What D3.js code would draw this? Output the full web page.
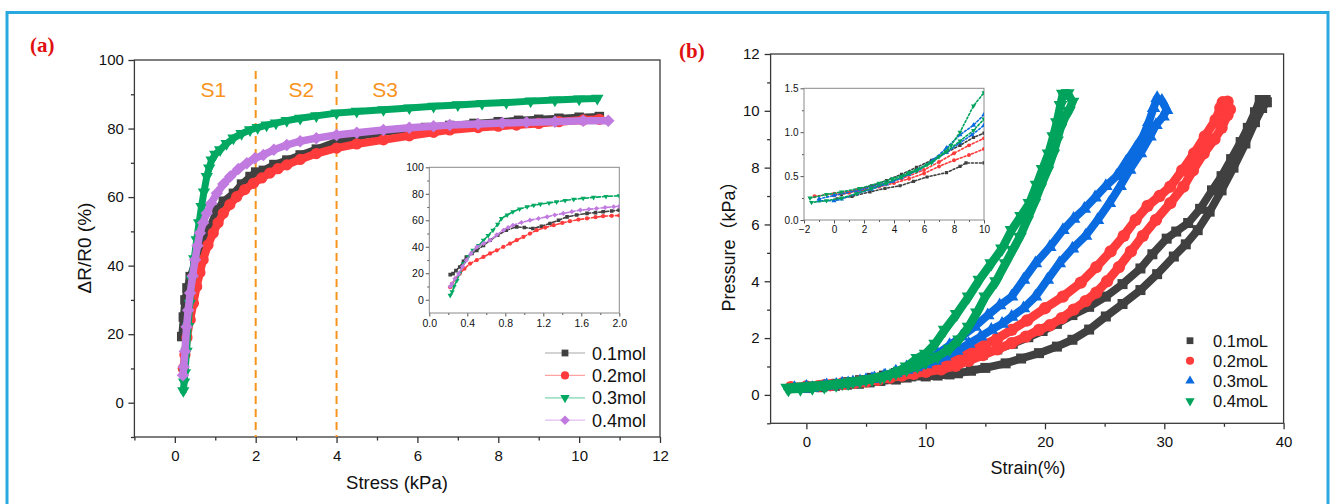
<!DOCTYPE html>
<html>
<head>
<meta charset="utf-8">
<script src="https://cdn.jsdelivr.net/npm/d3@7"></script>
<style>
  body { margin: 0; background: #fff; }
  svg { display: block; }
</style>
</head>
<body>
<svg id="fig" width="1332" height="504"></svg>
<script>
// ---------- Panel (a): resistance response vs. stress ----------
const namesA = ["0.1mol", "0.2mol", "0.3mol", "0.4mol"];

// [stress kPa, ΔR/R0 %]
const stressResp01 = [[0.17,19.3],[0.21,25],[0.25,30],[0.3,33.5],[0.38,36.8],[0.5,41],[0.62,45],[0.75,48.5],[0.87,51.4],[1.04,56.3],[1.2,58.8],[1.45,61.1],[1.65,63.8],[1.86,66],[2.0,67.3],[2.19,67.8],[2.45,69.5],[2.77,70.8],[3.1,72.3],[3.5,74],[4.0,76.2],[4.5,77.5],[5.0,78.6],[5.6,79.6],[6.2,80.3],[6.8,80.9],[7.4,81.5],[8.0,82],[8.5,82.4],[9.0,82.7],[9.5,83],[10.0,83.3],[10.5,83.5]];
const stressResp02 = [[0.21,10],[0.25,14],[0.3,19],[0.38,24.2],[0.46,29],[0.54,33.9],[0.62,38],[0.7,41.7],[0.82,46],[0.95,49.5],[1.07,52.5],[1.2,55.3],[1.36,57.8],[1.53,60.1],[1.73,62.2],[1.94,64],[2.15,65.6],[2.35,67],[2.55,68.3],[2.77,69.4],[3.1,71],[3.5,72.7],[4.0,74.3],[4.5,75.5],[5.16,76.7],[5.8,77.9],[6.4,78.9],[6.8,79.6],[7.5,80.3],[8.0,80.7],[8.45,81],[9.0,81.5],[9.5,82],[10.1,82.5],[10.5,82.7]];
const stressResp03 = [[0.21,3.5],[0.23,6],[0.25,8.7],[0.29,15],[0.33,22.2],[0.37,29],[0.42,35.9],[0.48,42],[0.54,47.5],[0.6,52.5],[0.66,57.2],[0.72,61.5],[0.79,66],[0.85,68.5],[0.91,70.8],[1.0,72.5],[1.12,73.8],[1.28,75.6],[1.45,77.2],[1.65,78.5],[1.86,79.6],[2.05,80.3],[2.27,81],[2.5,81.6],[2.77,82.3],[3.1,83],[3.5,83.7],[4.0,84.5],[4.5,85],[5.16,85.5],[5.8,86],[6.4,86.5],[7.0,86.9],[7.6,87.3],[8.2,87.6],[8.8,88],[9.4,88.3],[10.0,88.6],[10.45,88.8]];
const stressResp04 = [[0.2,8],[0.22,10.5],[0.25,15],[0.29,22.2],[0.33,27],[0.38,32],[0.44,37],[0.5,41.7],[0.56,45.8],[0.62,49.5],[0.7,52.5],[0.79,55.3],[0.9,58.2],[1.04,61.1],[1.2,63.8],[1.37,66],[1.57,68.2],[1.78,69.9],[1.98,71.3],[2.19,72.3],[2.45,73.8],[2.77,75.2],[3.1,76.3],[3.5,77.2],[4.0,78.1],[4.5,78.8],[5.16,79.6],[5.8,80.2],[6.4,80.7],[6.8,81],[7.5,81.3],[8.1,81.6],[8.7,81.8],[9.4,82],[10.1,82.3],[10.72,82.3]];

// low-stress detail (0–2 kPa)
const lowStress01 = [[0.22,19],[0.25,19.7],[0.28,22],[0.32,24.7],[0.36,29],[0.39,32.3],[0.45,35],[0.5,37.3],[0.57,41],[0.64,44.9],[0.72,48.7],[0.81,52.5],[0.92,55],[1.0,54.5],[1.09,53.8],[1.18,55.5],[1.27,57.6],[1.36,60],[1.45,62.6],[1.55,64],[1.66,65.2],[1.75,65.8],[1.83,66.4],[1.92,67],[2.0,67.7]];
const lowStress02 = [[0.22,9.5],[0.24,12],[0.28,16],[0.32,19.7],[0.37,23.5],[0.43,27.3],[0.5,30],[0.57,32.3],[0.64,35],[0.71,37.3],[0.78,40],[0.85,42.4],[0.92,45],[0.99,47.4],[1.06,50],[1.13,52.5],[1.22,54.5],[1.31,56.3],[1.4,58],[1.48,59.3],[1.57,60.5],[1.66,61.4],[1.75,62.3],[1.83,63.1],[1.92,63.4],[2.0,63.6]];
const lowStress03 = [[0.22,3.3],[0.24,6],[0.26,10],[0.29,14.6],[0.32,20],[0.36,27.3],[0.41,32.5],[0.46,37.3],[0.52,41],[0.57,44.9],[0.62,48.5],[0.67,52.5],[0.72,57],[0.76,61.4],[0.82,64],[0.88,66.4],[0.95,68.5],[1.03,70.2],[1.1,71.3],[1.17,72.2],[1.26,73.1],[1.34,73.9],[1.43,75],[1.52,75.8],[1.62,76.6],[1.73,77.3],[1.86,78],[2.0,78.5]];
const lowStress04 = [[0.22,10],[0.24,12.1],[0.27,16],[0.31,19.7],[0.35,25],[0.39,29.8],[0.44,35],[0.5,39.8],[0.57,42.5],[0.64,44.9],[0.71,49],[0.78,52.5],[0.83,54.5],[0.88,56.3],[0.97,58.3],[1.06,60.1],[1.15,61.4],[1.24,62.6],[1.32,64],[1.41,65.2],[1.5,66.5],[1.59,67.7],[1.68,68.3],[1.76,68.9],[1.85,69.6],[1.94,70.2],[2.0,70.5]];

const ticksAx = [0, 2, 4, 6, 8, 10, 12];
const ticksAy = [0, 20, 40, 60, 80, 100];
const ticksAinX = [0, 0.4, 0.8, 1.2, 1.6, 2.0];
const ticksAinY = [0, 20, 40, 60, 80, 100];
const stageBounds = [2, 4];
const stageNames = [["S1", 0.95], ["S2", 3.13], ["S3", 5.2]];

// ---------- Panel (b): compression loops ----------
const namesB = ["0.1moL", "0.2moL", "0.3moL", "0.4moL"];

// [strain %, pressure kPa] — loading then unloading
const loop01 = [[0.2,0.24],[1.2,0.27],[2.4,0.32],[3.4,0.36],[4.4,0.39],[5.3,0.44],[6.2,0.49],[7.5,0.54],[8.4,0.61],[8.8,0.65],[10,0.65],[11,0.68],[12,0.72],[12.7,0.76],[13.8,0.85],[15,0.95],[16.7,1.11],[18,1.28],[19.5,1.47],[21,1.7],[22.3,1.94],[23.7,2.3],[25.1,2.76],[26.5,3.2],[28,3.69],[29.4,4.25],[30.8,4.87],[31.8,5.3],[32.8,5.8],[33.8,6.45],[34.8,7.2],[35.8,8.0],[36.8,8.85],[37.6,9.6],[38.2,10.1],[38.6,10.3],[38.5,10.38],[38.0,10.38],[37.6,9.95],[37.0,9.4],[36.4,8.9],[35.6,8.3],[34.8,7.7],[34.0,7.2],[33.0,6.55],[32.0,6.05],[31.0,5.75],[30.2,5.5],[29.0,4.95],[28,4.45],[26.5,3.9],[25.1,3.46],[23.7,3.1],[22.3,2.81],[21,2.5],[19.8,2.25],[18.6,2.03],[17.3,1.8],[16,1.6],[14.8,1.42],[13.6,1.25],[12.5,1.13],[11.3,1.05],[10,0.99],[9.3,0.94],[8.4,0.85],[7.5,0.77],[6.5,0.68],[5.5,0.6],[4.5,0.52],[3.5,0.45],[2.5,0.39],[1.5,0.34],[0.5,0.29]];
const loop02 = [[-1.3,0.27],[0,0.3],[1.5,0.34],[3,0.4],[4.5,0.47],[6,0.57],[7,0.66],[8,0.76],[9,0.85],[10,0.93],[11,1.08],[12,1.25],[13.5,1.5],[15,1.78],[16,1.98],[17.2,2.29],[18.5,2.62],[20,3.05],[21.5,3.46],[23,3.95],[24.3,4.5],[25.5,5.05],[26.6,5.6],[27.6,6.16],[28.6,6.65],[29.6,7.0],[30.5,7.33],[31.5,7.9],[32.5,8.5],[33.4,9.1],[34.3,9.68],[34.7,10.1],[34.9,10.3],[35.3,10.32],[35.5,10.05],[35.3,9.85],[34.8,9.4],[34.2,9.0],[33.3,8.5],[32.4,7.9],[31.6,7.33],[30.5,6.75],[29.3,6.16],[28.2,5.6],[27.2,5.05],[26.2,4.5],[25.2,4.0],[24.3,3.6],[23.4,3.3],[22.4,3.0],[21.4,2.7],[20.4,2.45],[19.5,2.29],[18.4,2.05],[17.2,1.82],[16,1.6],[14.8,1.4],[13.6,1.2],[12.5,1.02],[11.3,0.9],[10,0.81],[9,0.74],[8,0.68],[7,0.61],[6,0.53],[5,0.47],[4,0.42],[3,0.38],[2,0.34],[1,0.31],[0,0.28]];
const loop03 = [[-1,0.24],[0,0.28],[1.7,0.34],[3,0.4],[3.9,0.44],[5,0.52],[5.7,0.58],[6.6,0.68],[7.5,0.82],[8.4,0.97],[9.3,1.08],[10,1.2],[11,1.45],[12,1.75],[13,2.05],[14.1,2.4],[15.2,2.8],[16.2,3.15],[17.2,3.46],[18.2,4.05],[19.2,4.63],[20.4,5.2],[21.5,5.8],[22.4,6.2],[23.3,6.55],[24.2,6.95],[25.1,7.35],[26,7.7],[26.8,8.2],[27.6,8.7],[28.2,9.09],[28.7,9.6],[29.1,10.1],[29.4,10.45],[29.8,10.35],[30.2,10.03],[29.9,9.8],[29.3,9.5],[28.8,9.09],[28.0,8.5],[27.1,7.92],[26.3,7.35],[25.4,6.75],[24.4,6.15],[23.4,5.6],[22.3,5.15],[21.2,4.63],[20.2,4.05],[19.2,3.46],[18.2,3.05],[17.2,2.75],[16.4,2.5],[15.5,2.29],[14.6,2.05],[13.6,1.8],[12.6,1.55],[11.6,1.35],[10.8,1.2],[10,1.08],[9.2,0.97],[8.4,0.88],[7.5,0.77],[6.5,0.66],[5.5,0.56],[4.5,0.48],[3.5,0.41],[2.5,0.35],[1.5,0.3],[0.5,0.24],[0,0.22],[-1,0.22]];
const loop04 = [[-1.6,0.25],[-0.5,0.29],[0.5,0.32],[1.7,0.36],[3,0.42],[3.9,0.47],[5,0.54],[6.2,0.63],[7,0.72],[7.8,0.85],[8.4,1.0],[9.3,1.3],[10,1.45],[10.8,1.8],[11.6,2.29],[12.6,2.85],[13.6,3.46],[14.5,4.05],[15.5,4.63],[16.4,5.15],[17.2,5.8],[18.0,6.3],[18.7,6.75],[19.3,7.4],[19.8,7.95],[20.3,8.5],[20.7,9.1],[21.0,9.6],[21.3,10.2],[21.5,10.6],[21.9,10.62],[22.3,10.32],[22.0,10.0],[21.7,9.79],[21.3,9.4],[21.0,8.95],[20.7,8.5],[20.2,7.9],[19.6,7.3],[19.1,6.75],[18.5,6.15],[17.9,5.57],[17.3,5.1],[16.7,4.63],[15.9,4.0],[15.0,3.46],[14.3,2.9],[13.6,2.4],[12.8,1.95],[12.0,1.62],[11.0,1.35],[10,1.15],[9.3,1.02],[8.4,0.9],[7.5,0.78],[6.5,0.65],[5.5,0.56],[4.5,0.49],[3.5,0.42],[2.5,0.36],[1.5,0.3],[0.5,0.25],[-0.5,0.22],[-1.5,0.2]];

const ticksBx = [0, 10, 20, 30, 40];
const ticksBy = [0, 2, 4, 6, 8, 10, 12];
const ticksBinX = [-2, 0, 2, 4, 6, 8, 10];
const ticksBinY = [0, 0.5, 1.0, 1.5];

// ---------- drawing ----------
const FONT = "'Liberation Sans', Arial, Helvetica, sans-serif";
const svg = d3.select("#fig");

const COL = { gray: "#404040", red: "#ff3b3b", green: "#00a862", purple: "#c07ae0", blue: "#0a6be0", green2: "#00a35c" };

// marker shapes
const SYM = {
  square:  { type: d3.symbolSquare,   rot: 0 },
  circle:  { type: d3.symbolCircle,   rot: 0 },
  triUp:   { type: d3.symbolTriangle, rot: 0 },
  triDown: { type: d3.symbolTriangle, rot: 180 },
  diamond: { type: d3.symbolSquare,   rot: 45 }
};

// outer figure border
svg.append("rect").attr("x", 7).attr("y", 12.5).attr("width", 1321).attr("height", 520)
  .attr("fill", "none").attr("stroke", "#2aa9e0").attr("stroke-width", 3);

function axes(g, x, y, o) {
  const [x0, x1] = x.range();
  const [y0, y1] = y.range();
  const style = sel => {
    sel.select(".domain").remove();
    sel.selectAll(".tick line").attr("stroke", o.tickColor).attr("stroke-width", o.sw);
    sel.selectAll(".tick text").attr("fill", "#111").style("font-family", FONT).style("font-size", o.fs + "px");
  };
  g.append("g").attr("transform", `translate(0,${y0})`)
    .call(d3.axisBottom(x).tickValues(o.xMinor).tickSize(o.minor).tickFormat("")).call(style);
  g.append("g").attr("transform", `translate(0,${y0})`)
    .call(d3.axisBottom(x).tickValues(o.xMajor).tickSize(o.major).tickPadding(o.xPad).tickFormat(o.xFmt)).call(style);
  g.append("g").attr("transform", `translate(${x0},0)`)
    .call(d3.axisLeft(y).tickValues(o.yMinor).tickSize(o.minor).tickFormat("")).call(style);
  g.append("g").attr("transform", `translate(${x0},0)`)
    .call(d3.axisLeft(y).tickValues(o.yMajor).tickSize(o.major).tickPadding(o.yPad).tickFormat(o.yFmt)).call(style);
  g.append("rect").attr("x", x0).attr("y", y1).attr("width", x1 - x0).attr("height", y0 - y1)
    .attr("fill", "none").attr("stroke", o.frameColor).attr("stroke-width", o.sw);
}

function series(g, data, x, y, s) {
  if (s.lw) {
    g.append("path").datum(data)
      .attr("d", d3.line().x(d => x(d[0])).y(d => y(d[1])))
      .attr("fill", "none").attr("stroke", s.lineColor || s.color)
      .attr("stroke-width", s.lw).attr("stroke-linejoin", "round").attr("stroke-linecap", "round")
      .attr("stroke-dasharray", s.dash || null);
  }
  const sym = SYM[s.shape];
  g.append("g").selectAll("path").data(data).join("path")
    .attr("transform", d => `translate(${x(d[0])},${y(d[1])}) rotate(${sym.rot})`)
    .attr("d", d3.symbol(sym.type, s.size)())
    .attr("fill", s.color);
}

function clipTo(id, x, y) {
  const [x0, x1] = x.range(), [y0, y1] = y.range();
  svg.append("clipPath").attr("id", id).append("rect")
    .attr("x", x0).attr("y", y1).attr("width", x1 - x0).attr("height", y0 - y1);
  return `url(#${id})`;
}

// ===== Panel (a) =====
const xA = d3.scaleLinear([-1, 12], [134.4, 660]);
const yA = d3.scaleLinear([-10, 100], [437, 60]);
const gA = svg.append("g");

axes(gA, xA, yA, {
  xMajor: ticksAx, xMinor: d3.range(-1, 12, 2), yMajor: ticksAy, yMinor: d3.range(-10, 100, 20),
  major: 6, minor: 3.5, xPad: 7, yPad: 4.5, fs: 15, sw: 1.3,
  tickColor: "#333", frameColor: "#3a3a3a", xFmt: d3.format("d"), yFmt: d3.format("d")
});

// stage separators and names
gA.append("g").selectAll("line").data(stageBounds).join("line")
  .attr("x1", d => xA(d)).attr("x2", d => xA(d)).attr("y1", 71).attr("y2", yA(-10))
  .attr("stroke", "#f7941d").attr("stroke-width", 2).attr("stroke-dasharray", "8,5");
gA.append("g").selectAll("text").data(stageNames).join("text")
  .attr("x", d => xA(d[1])).attr("y", 96.5).attr("text-anchor", "middle")
  .style("font-family", FONT).style("font-size", "21px").attr("fill", "#f7941d")
  .text(d => d[0]);

const styleA = [
  { color: COL.gray,   shape: "square",  size: 90,  leg: "#a8a8a8" },
  { color: COL.red,    shape: "circle",  size: 100, leg: "#ffa3a3" },
  { color: COL.green,  shape: "triDown", size: 66,  leg: "#7fd4b0" },
  { color: COL.purple, shape: "diamond", size: 78,  leg: "#e2bdf2" }
];
const mainA = [stressResp01, stressResp02, stressResp03, stressResp04];
const bandA = [7, 8, 7, 7.5];
mainA.forEach((d, i) => series(gA, d, xA, yA, { ...styleA[i], lw: bandA[i] }));

// low-stress inset
const xAi = d3.scaleLinear([0, 2], [429.3, 619.3]);
const yAi = d3.scaleLinear([-10, 100], [313, 167.3]);
const gAi = svg.append("g");
gAi.append("rect").attr("x", 429.3).attr("y", 167.3).attr("width", 190).attr("height", 145.7).attr("fill", "#fff");
axes(gAi, xAi, yAi, {
  xMajor: ticksAinX, xMinor: d3.range(0.2, 2, 0.4), yMajor: ticksAinY, yMinor: d3.range(10, 100, 20),
  major: 3.5, minor: 2, xPad: 3, yPad: 2, fs: 10.5, sw: 1,
  tickColor: "#555", frameColor: "#8a8a8a", xFmt: d3.format(".1f"), yFmt: d3.format("d")
});
const gAiData = gAi.append("g").attr("clip-path", clipTo("clipAi", xAi, yAi));
const insetA = [lowStress01, lowStress02, lowStress03, lowStress04];
const insetSizeA = [13, 14, 12, 13];
insetA.forEach((d, i) => series(gAiData, d, xAi, yAi,
  { color: styleA[i].color, shape: styleA[i].shape, size: insetSizeA[i], lw: 1.6, dash: "4,2", lineColor: styleA[i].color }));

// legend (a)
const legA = svg.append("g");
namesA.forEach((name, i) => {
  const cy = 353 + i * 22.4;
  legA.append("line").attr("x1", 545).attr("x2", 585).attr("y1", cy).attr("y2", cy)
    .attr("stroke", styleA[i].leg).attr("stroke-width", 1.2);
  const sym = SYM[styleA[i].shape];
  legA.append("path").attr("transform", `translate(565,${cy}) rotate(${sym.rot})`)
    .attr("d", d3.symbol(sym.type, [46, 52, 38, 46][i])()).attr("fill", styleA[i].color);
  legA.append("text").attr("x", 592).attr("y", cy + 6.5)
    .style("font-family", FONT).style("font-size", "18px").attr("fill", "#111").text(name);
});

// titles (a)
svg.append("text").attr("x", 397).attr("y", 489).attr("text-anchor", "middle")
  .style("font-family", FONT).style("font-size", "18.5px").attr("fill", "#111").text("Stress (kPa)");
svg.append("text").attr("transform", "translate(91,248) rotate(-90)").attr("text-anchor", "middle")
  .style("font-family", FONT).style("font-size", "19px").attr("fill", "#111").text("ΔR/R0 (%)");
svg.append("text").attr("x", 30).attr("y", 52)
  .style("font-family", "'Liberation Serif', 'Times New Roman', serif").style("font-size", "21px")
  .style("font-weight", "bold").attr("fill", "#e01010").text("(a)");

// ===== Panel (b) =====
const xB = d3.scaleLinear([-3, 40], [770.6, 1283.6]);
const yB = d3.scaleLinear([-1, 12], [423.3, 54]);
const gB = svg.append("g");
axes(gB, xB, yB, {
  xMajor: ticksBx, xMinor: d3.range(5, 40, 10), yMajor: ticksBy, yMinor: d3.range(-1, 12, 2),
  major: 6, minor: 3.5, xPad: 7.5, yPad: 5, fs: 15, sw: 1.3,
  tickColor: "#333", frameColor: "#3a3a3a", xFmt: d3.format("d"), yFmt: d3.format("d")
});

const styleB = [
  { color: COL.gray,   shape: "square",  size: 100 },
  { color: COL.red,    shape: "circle",  size: 120 },
  { color: COL.blue,   shape: "triUp",   size: 80 },
  { color: COL.green2, shape: "triDown", size: 84 }
];
const loopsB = [loop01, loop02, loop03, loop04];
const bandB = [8, 9, 8, 8.5];
loopsB.forEach((d, i) => series(gB, d, xB, yB, { ...styleB[i], lw: bandB[i] }));

// low-strain inset
const xBi = d3.scaleLinear([-2, 10], [804, 984]);
const yBi = d3.scaleLinear([0, 1.5], [220, 88.3]);
const gBi = svg.append("g");
gBi.append("rect").attr("x", 804).attr("y", 88.3).attr("width", 180).attr("height", 131.7).attr("fill", "#fff");
axes(gBi, xBi, yBi, {
  xMajor: ticksBinX, xMinor: d3.range(-1, 10, 2), yMajor: ticksBinY, yMinor: d3.range(0.25, 1.5, 0.5),
  major: 3.5, minor: 2, xPad: 2, yPad: 2, fs: 10, sw: 1,
  tickColor: "#555", frameColor: "#8a8a8a", xFmt: d3.format("d"), yFmt: d3.format(".1f")
});
const gBiData = gBi.append("g").attr("clip-path", clipTo("clipBi", xBi, yBi));
const insetSizeB = [10, 12, 11, 11];
loopsB.forEach((d, i) => series(gBiData, d, xBi, yBi,
  { color: styleB[i].color, shape: styleB[i].shape, size: insetSizeB[i], lw: 1.6, dash: "2,2" }));

// legend (b)
const legB = svg.append("g");
namesB.forEach((name, i) => {
  const cy = 340.7 + i * 20.1;
  const sym = SYM[styleB[i].shape];
  legB.append("path").attr("transform", `translate(1190,${cy}) rotate(${sym.rot})`)
    .attr("d", d3.symbol(sym.type, [46, 52, 38, 38][i])()).attr("fill", styleB[i].color);
  legB.append("text").attr("x", 1213).attr("y", cy + 6)
    .style("font-family", FONT).style("font-size", "16.5px").attr("fill", "#111").text(name);
});

// titles (b)
svg.append("text").attr("x", 1028).attr("y", 474).attr("text-anchor", "middle")
  .style("font-family", FONT).style("font-size", "18px").attr("fill", "#111").text("Strain(%)");
svg.append("text").attr("transform", "translate(735,242) rotate(-90)").attr("text-anchor", "middle")
  .style("font-family", FONT + ", 'Noto Sans CJK SC'").style("font-size", "18px").attr("fill", "#111").text("Pressure（kPa）");
svg.append("text").attr("x", 679).attr("y", 58)
  .style("font-family", "'Liberation Serif', 'Times New Roman', serif").style("font-size", "21px")
  .style("font-weight", "bold").attr("fill", "#e01010").text("(b)");
</script>
</body>
</html>
